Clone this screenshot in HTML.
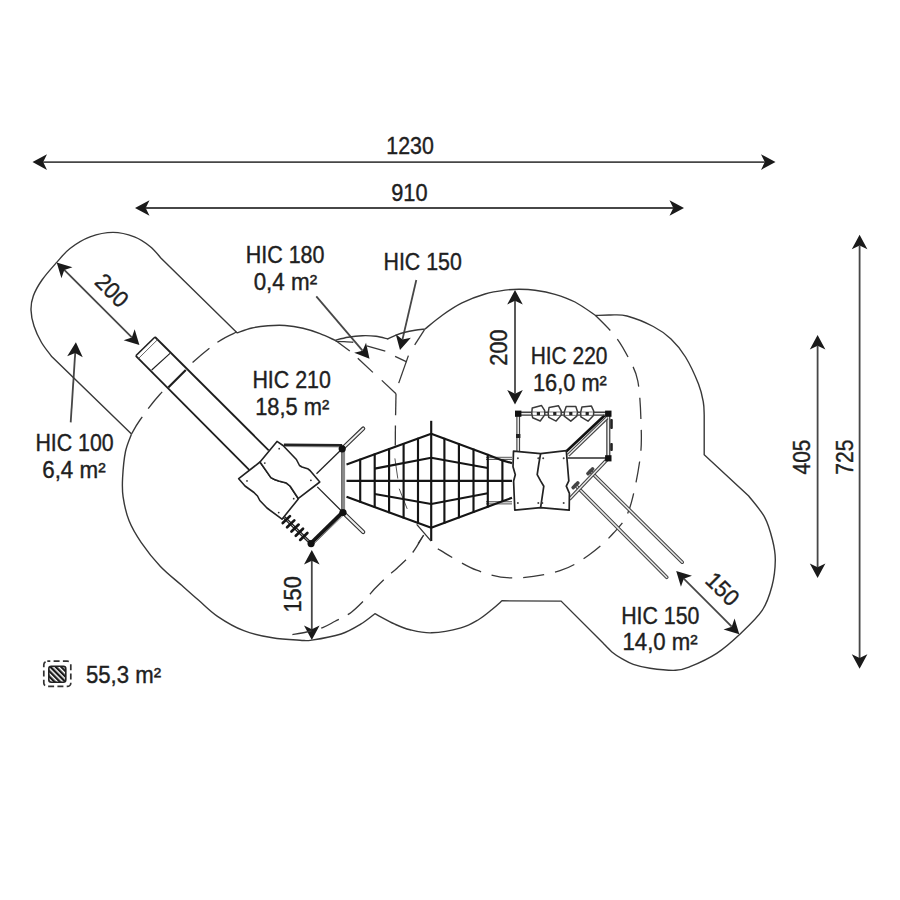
<!DOCTYPE html>
<html><head><meta charset="utf-8"><style>
html,body{margin:0;padding:0;background:#fff;}
svg{display:block;}
text{font-family:"Liberation Sans",sans-serif;stroke:#1f1f1f;stroke-width:0.4px;}
</style></head><body>
<svg width="900" height="900" viewBox="0 0 900 900">
<rect width="900" height="900" fill="#fff"/>
<line x1="43.2" y1="162.1" x2="764.8" y2="162.1" stroke="#474747" stroke-width="1.8" stroke-linecap="butt"/>
<path d="M775.5,162.1 L761,154.3 L764.8,162.1 L761,169.9 Z" fill="#1a1a1a"/>
<path d="M32.5,162.1 L47,169.9 L43.2,162.1 L47,154.3 Z" fill="#1a1a1a"/>
<line x1="145.7" y1="208" x2="673.3" y2="208" stroke="#474747" stroke-width="1.8" stroke-linecap="butt"/>
<path d="M684,208 L669.5,200.2 L673.3,208 L669.5,215.8 Z" fill="#1a1a1a"/>
<path d="M135,208 L149.5,215.8 L145.7,208 L149.5,200.2 Z" fill="#1a1a1a"/>
<line x1="859.6" y1="245.5" x2="859.6" y2="658.1" stroke="#474747" stroke-width="1.8" stroke-linecap="butt"/>
<path d="M859.6,668.8 L867.4,654.3 L859.6,658.1 L851.8,654.3 Z" fill="#1a1a1a"/>
<path d="M859.6,234.8 L851.8,249.3 L859.6,245.5 L867.4,249.3 Z" fill="#1a1a1a"/>
<line x1="817.6" y1="345.7" x2="817.6" y2="567.3" stroke="#474747" stroke-width="1.8" stroke-linecap="butt"/>
<path d="M817.6,578 L825.4,563.5 L817.6,567.3 L809.8,563.5 Z" fill="#1a1a1a"/>
<path d="M817.6,335 L809.8,349.5 L817.6,345.7 L825.4,349.5 Z" fill="#1a1a1a"/>
<line x1="64.27" y1="269.96" x2="131.83" y2="337.44" stroke="#474747" stroke-width="1.8" stroke-linecap="butt"/>
<path d="M139.4,345 L134.65,329.23 L131.83,337.44 L123.63,340.27 Z" fill="#1a1a1a"/>
<path d="M56.7,262.4 L61.45,278.17 L64.27,269.96 L72.47,267.13 Z" fill="#1a1a1a"/>
<line x1="515" y1="300.7" x2="515" y2="393.7" stroke="#474747" stroke-width="1.8" stroke-linecap="butt"/>
<path d="M515,404.4 L522.8,389.9 L515,393.7 L507.2,389.9 Z" fill="#1a1a1a"/>
<path d="M515,290 L507.2,304.5 L515,300.7 L522.8,304.5 Z" fill="#1a1a1a"/>
<line x1="311.8" y1="560.7" x2="311.8" y2="629.3" stroke="#474747" stroke-width="1.8" stroke-linecap="butt"/>
<path d="M311.8,640 L319.6,625.5 L311.8,629.3 L304,625.5 Z" fill="#1a1a1a"/>
<path d="M311.8,550 L304,564.5 L311.8,560.7 L319.6,564.5 Z" fill="#1a1a1a"/>
<line x1="683.77" y1="578.67" x2="731.73" y2="626.63" stroke="#474747" stroke-width="1.8" stroke-linecap="butt"/>
<path d="M739.3,634.2 L734.56,618.43 L731.73,626.63 L723.53,629.46 Z" fill="#1a1a1a"/>
<path d="M676.2,571.1 L680.94,586.87 L683.77,578.67 L691.97,575.84 Z" fill="#1a1a1a"/>
<line x1="316.3" y1="296.3" x2="362.56" y2="350.65" stroke="#474747" stroke-width="1.8" stroke-linecap="butt"/>
<path d="M369.5,358.8 L366.04,342.7 L362.56,350.65 L354.16,352.81 Z" fill="#1a1a1a"/>
<line x1="416.3" y1="280" x2="402.43" y2="339.58" stroke="#474747" stroke-width="1.8" stroke-linecap="butt"/>
<path d="M400,350 L410.89,337.65 L402.43,339.58 L395.69,334.11 Z" fill="#1a1a1a"/>
<line x1="70.7" y1="422.4" x2="75.21" y2="352.88" stroke="#474747" stroke-width="1.8" stroke-linecap="butt"/>
<path d="M75.9,342.2 L67.18,356.16 L75.21,352.88 L82.75,357.17 Z" fill="#1a1a1a"/>
<text x="386.3" y="153.5" font-size="23.2" fill="#1f1f1f" textLength="47.45" lengthAdjust="spacingAndGlyphs">1230</text>
<text x="391.2" y="201.25" font-size="23.2" fill="#1f1f1f" textLength="36.3" lengthAdjust="spacingAndGlyphs">910</text>
<text x="245.7" y="263.4" font-size="23.2" fill="#1f1f1f" textLength="78.8" lengthAdjust="spacingAndGlyphs">HIC 180</text>
<text x="253.65" y="290.25" font-size="23.2" fill="#1f1f1f" textLength="63.45" lengthAdjust="spacingAndGlyphs">0,4 m²</text>
<text x="383.5" y="269.7" font-size="23.2" fill="#1f1f1f" textLength="78.25" lengthAdjust="spacingAndGlyphs">HIC 150</text>
<text x="252.4" y="387.8" font-size="23.2" fill="#1f1f1f" textLength="78.4" lengthAdjust="spacingAndGlyphs">HIC 210</text>
<text x="255.2" y="415" font-size="23.2" fill="#1f1f1f" textLength="74.05" lengthAdjust="spacingAndGlyphs">18,5 m²</text>
<text x="530.7" y="363.9" font-size="23.2" fill="#1f1f1f" textLength="76.75" lengthAdjust="spacingAndGlyphs">HIC 220</text>
<text x="532.9" y="390.5" font-size="23.2" fill="#1f1f1f" textLength="73.95" lengthAdjust="spacingAndGlyphs">16,0 m²</text>
<text x="35.4" y="450.9" font-size="23.2" fill="#1f1f1f" textLength="78.25" lengthAdjust="spacingAndGlyphs">HIC 100</text>
<text x="42.2" y="478.1" font-size="23.2" fill="#1f1f1f" textLength="63.45" lengthAdjust="spacingAndGlyphs">6,4 m²</text>
<text x="621.2" y="623.7" font-size="23.2" fill="#1f1f1f" textLength="78.25" lengthAdjust="spacingAndGlyphs">HIC 150</text>
<text x="622.5" y="650.45" font-size="23.2" fill="#1f1f1f" textLength="75.2" lengthAdjust="spacingAndGlyphs">14,0 m²</text>
<text x="85.95" y="682.8" font-size="23.2" fill="#1f1f1f" textLength="75.15" lengthAdjust="spacingAndGlyphs">55,3 m²</text>
<g transform="translate(112.1 290.5) rotate(45)"><text x="-18.25" y="8.1" font-size="23.2" fill="#1f1f1f" textLength="36.25" lengthAdjust="spacingAndGlyphs">200</text></g>
<g transform="translate(498.9 347.4) rotate(-90)"><text x="-18.25" y="8.1" font-size="23.2" fill="#1f1f1f" textLength="36.25" lengthAdjust="spacingAndGlyphs">200</text></g>
<g transform="translate(293.3 594) rotate(-90)"><text x="-18.5" y="7.85" font-size="23.2" fill="#1f1f1f" textLength="36.3" lengthAdjust="spacingAndGlyphs">150</text></g>
<g transform="translate(801.6 457.3) rotate(-90)"><text x="-17.12" y="8.1" font-size="23.2" fill="#1f1f1f" textLength="34.7" lengthAdjust="spacingAndGlyphs">405</text></g>
<g transform="translate(844.7 457.1) rotate(-90)"><text x="-17.62" y="8.1" font-size="23.2" fill="#1f1f1f" textLength="35.1" lengthAdjust="spacingAndGlyphs">725</text></g>
<g transform="translate(722.7 589.3) rotate(45)"><text x="-18.5" y="7.85" font-size="23.2" fill="#1f1f1f" textLength="36.3" lengthAdjust="spacingAndGlyphs">150</text></g>
<path d="M131.5,434 L51.7,356.5 C50,354.17 44.45,347.58 41.5,342.5 C38.55,337.42 35.75,331.42 34,326 C32.25,320.58 31.12,315 31,310 C30.88,305 31.47,301 33.3,296 C35.13,291 38.1,285.6 42,280 C45.9,274.4 52.03,267.65 56.7,262.4 C61.37,257.15 64.45,252.75 70,248.5 C75.55,244.25 82.82,239.58 90,236.9 C97.18,234.22 105.7,232.4 113.1,232.4 C120.5,232.4 128.18,234.52 134.4,236.9 C140.62,239.28 145.95,243.15 150.4,246.7 C154.85,250.25 159.32,256.28 161.1,258.2 L237,332.8 C239.5,332 246.83,329.17 252,328 C257.17,326.83 262.5,326.22 268,325.8 C273.5,325.38 279.17,325.08 285,325.5 C290.83,325.92 297.17,326.95 303,328.3 C308.83,329.65 314.67,331.6 320,333.6 C325.33,335.6 332.5,339.18 335,340.3 C337.17,339.78 343.45,337.97 348,337.2 C352.55,336.43 357.63,335.85 362.3,335.7 C366.97,335.55 371.77,335.75 376,336.3 C380.23,336.85 385.75,338.55 387.7,339 C389.08,338.37 393.12,336.32 396,335.2 C398.88,334.08 401.83,333.12 405,332.3 C408.17,331.48 411.67,330.85 415,330.3 C418.33,329.75 423.33,329.22 425,329 C427.88,326.7 436.13,319.55 442.3,315.2 C448.47,310.85 454.88,306.43 462,302.9 C469.12,299.37 477.83,296.13 485,294 C492.17,291.87 499.25,290.88 505,290.1 C510.75,289.32 514.5,289.28 519.5,289.3 C524.5,289.32 529.08,289.37 535,290.2 C540.92,291.03 548.33,292.33 555,294.3 C561.67,296.27 568.23,298.47 575,302 C581.77,305.53 592.17,313.25 595.6,315.5 C598,315.42 604.77,314.92 610,315 C615.23,315.08 619.78,314.08 627,316 C634.22,317.92 645.97,322.67 653.3,326.5 C660.63,330.33 665.63,333.92 671,339 C676.37,344.08 680.92,349.5 685.5,357 C690.08,364.5 695.53,376.5 698.5,384 C701.47,391.5 702.35,396.83 703.3,402 C704.25,407.17 704.05,412.83 704.2,415 L704.2,454.7 L748.7,496 C751.37,499.55 760.73,509.97 764.7,517.3 C768.67,524.63 770.73,532.88 772.5,540 C774.27,547.12 775.38,552.33 775.3,560 C775.22,567.67 774.22,577.55 772,586 C769.78,594.45 767.45,602.58 762,610.7 C756.55,618.82 746.85,627.6 739.3,634.7 C731.75,641.8 724.92,647.97 716.7,653.3 C708.48,658.63 696.85,663.87 690,666.7 C683.15,669.53 682.27,670.03 675.6,670.3 C668.93,670.57 657.05,669.28 650,668.3 C642.95,667.32 637.93,665.97 633.3,664.4 C628.67,662.83 625.72,660.93 622.2,658.9 C618.68,656.87 615.35,654.8 612.2,652.2 C609.05,649.6 604.78,644.78 603.3,643.3 L561.1,601.1 L502,600.8 C500.33,602.25 496,606.3 492,609.5 C488,612.7 483.18,616.93 478,620 C472.82,623.07 468.63,625.77 460.9,627.9 C453.17,630.03 440.08,632.48 431.6,632.8 C423.12,633.12 416.12,631.23 410,629.8 C403.88,628.37 400.75,626.88 394.9,624.2 C389.05,621.52 378.23,615.45 374.9,613.7 C372.53,615.45 366.33,620.82 360.7,624.2 C355.07,627.58 349.25,631.35 341.1,634 C332.95,636.65 318.65,639.07 311.8,640.1 C304.95,641.13 306.57,640.58 300,640.2 C293.43,639.82 281.77,639.38 272.4,637.8 C263.03,636.22 252.95,634.28 243.8,630.7 C234.65,627.12 225.07,621.42 217.5,616.3 C209.93,611.18 204.37,605.17 198.4,600 C192.43,594.83 188.07,590.93 181.7,585.3 C175.33,579.67 166.97,573.37 160.2,566.2 C153.43,559.03 146.28,549.87 141.1,542.3 C135.92,534.73 132.1,528.37 129.1,520.8 C126.1,513.23 124.18,504.07 123.1,496.9 C122.02,489.73 122.2,485.37 122.6,477.8 C123,470.23 124.02,458.8 125.5,451.5 C126.98,444.2 130.5,436.92 131.5,434" fill="none" stroke="#383838" stroke-width="1.4" />
<path d="M335.6,341.3 C337,341.35 341.05,341.45 344,341.6 C346.95,341.75 351.75,342.1 353.3,342.2" fill="none" stroke="#383838" stroke-width="1.4" />
<path d="M236.7,332 C233.63,333.62 225.8,336.48 218.3,341.7 C210.8,346.92 201.42,354.55 191.7,363.3 C181.98,372.05 168.62,384.75 160,394.2 C151.38,403.65 144.75,413.37 140,420 C135.25,426.63 132.92,431.67 131.5,434" fill="none" stroke="#383838" stroke-width="1.3" stroke-dasharray="22 10" />
<line x1="335.6" y1="340.4" x2="349.8" y2="351.1" stroke="#383838" stroke-width="1.3" stroke-linecap="butt"/>
<line x1="357.8" y1="358.2" x2="372.9" y2="372.4" stroke="#383838" stroke-width="1.3" stroke-linecap="butt"/>
<line x1="381.8" y1="380.4" x2="396" y2="393.8" stroke="#383838" stroke-width="1.3" stroke-linecap="butt"/>
<line x1="396" y1="393.8" x2="395.6" y2="415.3" stroke="#383838" stroke-width="1.3" stroke-linecap="butt"/>
<line x1="395.4" y1="425.6" x2="395.3" y2="445.6" stroke="#383838" stroke-width="1.3" stroke-linecap="butt"/>
<line x1="366.7" y1="345.8" x2="385.3" y2="351.1" stroke="#383838" stroke-width="1.3" stroke-linecap="butt"/>
<line x1="394.9" y1="458.4" x2="397.8" y2="478.6" stroke="#555" stroke-width="1" stroke-linecap="butt"/>
<line x1="399.2" y1="488.7" x2="407.2" y2="508.9" stroke="#555" stroke-width="1" stroke-linecap="butt"/>
<path d="M423.3,535.5 C421.48,538.4 416.73,547.48 412.4,552.9 C408.07,558.32 401.58,564 397.3,568 C393.02,572 390.55,573.35 386.7,576.9 C382.85,580.45 377.47,585.9 374.2,589.3 C370.93,592.7 370.95,593.45 367.1,597.3 C363.25,601.15 356.43,608.4 351.1,612.4 C345.77,616.4 339.83,618.77 335.1,621.3 C330.37,623.83 327.43,625.82 322.7,627.6 C317.97,629.38 311.75,630.82 306.7,632 C301.65,633.18 294.78,634.25 292.4,634.7" fill="none" stroke="#383838" stroke-width="1.3" stroke-dasharray="20 10" />
<line x1="424.4" y1="329.8" x2="414.7" y2="344.9" stroke="#383838" stroke-width="1.3" stroke-linecap="butt"/>
<line x1="408.4" y1="355.6" x2="398.7" y2="383.1" stroke="#383838" stroke-width="1.3" stroke-linecap="butt"/>
<line x1="395.1" y1="356.4" x2="406.7" y2="361.8" stroke="#383838" stroke-width="1.3" stroke-linecap="butt"/>
<path d="M595.6,315.5 C598.93,319.03 610.03,329.45 615.6,336.7 C621.17,343.95 625.3,351.62 629,359 C632.7,366.38 635.8,370.5 637.8,381 C639.8,391.5 640.63,409 641,422 C641.37,435 642,444.33 640,459 C638,473.67 633.45,497.62 629,510 C624.55,522.38 619.92,525.85 613.3,533.3 C606.68,540.75 598.18,548.47 589.3,554.7 C580.42,560.93 572.55,566.82 560,570.7 C547.45,574.58 527.88,578.08 514,578 C500.12,577.92 489.4,575.05 476.7,570.2 C464,565.35 444.28,552.45 437.8,548.9" fill="none" stroke="#383838" stroke-width="1.3" stroke-dasharray="21 11" />
<path d="M135.8,355.8 L155,337 L268.7,450.3 L249.2,469.8 Z" fill="#fff"/>
<line x1="135.8" y1="355.8" x2="249.2" y2="469.8" stroke="#1e1e1e" stroke-width="1.8" stroke-linecap="butt"/>
<line x1="155" y1="337" x2="268.7" y2="450.3" stroke="#1e1e1e" stroke-width="1.8" stroke-linecap="butt"/>
<line x1="135.8" y1="355.8" x2="155" y2="337" stroke="#1e1e1e" stroke-width="1.6" stroke-linecap="butt"/>
<line x1="138.6" y1="358.4" x2="157.6" y2="339.6" stroke="#555" stroke-width="0.9" stroke-linecap="butt"/>
<line x1="151.7" y1="370" x2="170" y2="353.3" stroke="#1e1e1e" stroke-width="1.1" stroke-linecap="butt"/>
<line x1="168.3" y1="387.5" x2="185.8" y2="370" stroke="#1e1e1e" stroke-width="2.2" stroke-linecap="butt"/>
<line x1="283.9" y1="517.2" x2="311.1" y2="543.6" stroke="#222" stroke-width="3" stroke-linecap="butt"/>
<line x1="283.9" y1="517.2" x2="311.1" y2="543.6" stroke="#ccc" stroke-width="0.9" stroke-linecap="butt"/>
<line x1="282.75" y1="523.03" x2="289.95" y2="516.13" stroke="#151515" stroke-width="2.7" stroke-linecap="round"/>
<line x1="287.1" y1="527.25" x2="294.3" y2="520.35" stroke="#151515" stroke-width="2.7" stroke-linecap="round"/>
<line x1="291.45" y1="531.47" x2="298.65" y2="524.57" stroke="#151515" stroke-width="2.7" stroke-linecap="round"/>
<line x1="295.8" y1="535.7" x2="303" y2="528.8" stroke="#151515" stroke-width="2.7" stroke-linecap="round"/>
<line x1="300.16" y1="539.92" x2="307.36" y2="533.02" stroke="#151515" stroke-width="2.7" stroke-linecap="round"/>
<line x1="283.9" y1="446.3" x2="342.2" y2="446.6" stroke="#999" stroke-width="1.6" stroke-linecap="butt"/>
<line x1="283.9" y1="444.8" x2="342.2" y2="445.2" stroke="#222" stroke-width="2.4" stroke-linecap="butt"/>
<line x1="343.4" y1="448.8" x2="343.4" y2="512.5" stroke="#8a8a8a" stroke-width="3.4" stroke-linecap="butt"/>
<line x1="341.6" y1="448.8" x2="341.6" y2="512.5" stroke="#444" stroke-width="0.8" stroke-linecap="butt"/>
<line x1="343" y1="512.5" x2="311.1" y2="543.6" stroke="#151515" stroke-width="4.6" stroke-linecap="butt"/>
<line x1="344.2" y1="513.8" x2="312.3" y2="544.9" stroke="#aaa" stroke-width="1" stroke-linecap="butt"/>
<line x1="342.2" y1="448.8" x2="363.2" y2="428.6" stroke="#333" stroke-width="4.2" stroke-linecap="round"/>
<line x1="342.2" y1="448.8" x2="363.2" y2="428.6" stroke="#eee" stroke-width="2" stroke-linecap="round"/>
<line x1="343" y1="512.5" x2="363.2" y2="532" stroke="#333" stroke-width="4.2" stroke-linecap="round"/>
<line x1="343" y1="512.5" x2="363.2" y2="532" stroke="#eee" stroke-width="2" stroke-linecap="round"/>
<line x1="342.2" y1="448.8" x2="316.5" y2="473.7" stroke="#222" stroke-width="1.3" stroke-linecap="butt"/>
<line x1="343" y1="512.5" x2="317.3" y2="486.9" stroke="#222" stroke-width="1.3" stroke-linecap="butt"/>
<circle cx="342.2" cy="448.8" r="3.6" fill="#111"/>
<circle cx="343" cy="512.5" r="3.6" fill="#111"/>
<circle cx="311.1" cy="543.6" r="3.6" fill="#111"/>
<path d="M238.7,478.7 L245,486 L254,492.5 L257.5,496 L259.8,500.5 L267,508 L282,519.2 L298.1,499.2 L297.6,497.5 L290,486 L286.4,483.1 L278.7,481 L274.5,479.5 L270.9,477.6 L260,462 Z" fill="#fff" stroke="#222" stroke-width="1.6" stroke-linejoin="round"/>
<path d="M260,462 L277,441.4 L283,445.5 L296.4,459.5 L299.5,465.5 L302,467 L307.6,468.7 L310,470.5 L319.8,482 L298.1,498.7 L297.6,497.5 L290,486 L286.4,483.1 L278.7,481 L274.5,479.5 L270.9,477.6 L260,462 Z" fill="#fff" stroke="#222" stroke-width="1.6" stroke-linejoin="round"/>
<circle cx="279.2" cy="448.7" r="0.9" fill="#333"/>
<circle cx="264.8" cy="463.1" r="0.9" fill="#333"/>
<circle cx="310.9" cy="480.3" r="0.9" fill="#333"/>
<circle cx="293.7" cy="498.7" r="0.9" fill="#333"/>
<circle cx="247" cy="480.9" r="0.9" fill="#333"/>
<circle cx="278.7" cy="512.6" r="0.9" fill="#333"/>
<line x1="486" y1="458.4" x2="512" y2="458.4" stroke="#555" stroke-width="3.2" stroke-linecap="butt"/>
<line x1="486" y1="458.4" x2="512" y2="458.4" stroke="#ddd" stroke-width="1.3" stroke-linecap="butt"/>
<line x1="486" y1="502.8" x2="512" y2="502.8" stroke="#555" stroke-width="3.2" stroke-linecap="butt"/>
<line x1="486" y1="502.8" x2="512" y2="502.8" stroke="#ddd" stroke-width="1.3" stroke-linecap="butt"/>
<polyline points="346.5,464.5 431.2,433.8 487.8,454.7 502.4,460.4 512,463.1" fill="none" stroke="#151515" stroke-width="2.15" stroke-linejoin="round"/>
<polyline points="346.5,496.8 431.2,527.8 487.8,506.7 502.4,501.3 512,497.8" fill="none" stroke="#151515" stroke-width="2.15" stroke-linejoin="round"/>
<polyline points="374.7,468.6 431.2,457.7 487.8,468" fill="none" stroke="#151515" stroke-width="2.15" stroke-linejoin="round"/>
<polyline points="374.7,494 431.2,504 487.8,493.3" fill="none" stroke="#151515" stroke-width="2.15" stroke-linejoin="round"/>
<line x1="346.5" y1="480.8" x2="512" y2="480.8" stroke="#151515" stroke-width="2.15" stroke-linecap="butt"/>
<line x1="360.2" y1="458.73" x2="360.2" y2="502.61" stroke="#151515" stroke-width="2.15" stroke-linecap="butt"/>
<line x1="374.7" y1="453.48" x2="374.7" y2="507.92" stroke="#151515" stroke-width="2.15" stroke-linecap="butt"/>
<line x1="389.1" y1="448.26" x2="389.1" y2="513.19" stroke="#151515" stroke-width="2.15" stroke-linecap="butt"/>
<line x1="403.6" y1="443" x2="403.6" y2="518.5" stroke="#151515" stroke-width="2.15" stroke-linecap="butt"/>
<line x1="418" y1="437.78" x2="418" y2="523.77" stroke="#151515" stroke-width="2.15" stroke-linecap="butt"/>
<line x1="444.4" y1="437.87" x2="444.4" y2="523.68" stroke="#151515" stroke-width="2.15" stroke-linecap="butt"/>
<line x1="458.9" y1="443.23" x2="458.9" y2="518.27" stroke="#151515" stroke-width="2.15" stroke-linecap="butt"/>
<line x1="473.5" y1="448.62" x2="473.5" y2="512.83" stroke="#151515" stroke-width="2.15" stroke-linecap="butt"/>
<line x1="487.8" y1="453.9" x2="487.8" y2="507.5" stroke="#151515" stroke-width="2.15" stroke-linecap="butt"/>
<line x1="502.4" y1="459.6" x2="502.4" y2="502.1" stroke="#151515" stroke-width="2.15" stroke-linecap="butt"/>
<line x1="431.2" y1="420.8" x2="431.2" y2="541" stroke="#151515" stroke-width="2.15" stroke-linecap="butt"/>
<line x1="416.7" y1="524.4" x2="431.1" y2="541.1" stroke="#333" stroke-width="1.3" stroke-linecap="butt"/>
<line x1="418" y1="543.6" x2="423.8" y2="535" stroke="#333" stroke-width="1.1" stroke-linecap="butt"/>
<line x1="590.3" y1="471.2" x2="682.2" y2="562.2" stroke="#444" stroke-width="3.6" stroke-linecap="round"/>
<line x1="590.3" y1="471.2" x2="682.2" y2="562.2" stroke="#e6e6e6" stroke-width="1.6" stroke-linecap="round"/>
<g transform="translate(590.3 471.2) rotate(45)"><rect x="-1.8" y="-5" width="3.6" height="10" rx="1.5" fill="#444"/></g>
<line x1="575.5" y1="485.2" x2="666.7" y2="577.3" stroke="#444" stroke-width="3.6" stroke-linecap="round"/>
<line x1="575.5" y1="485.2" x2="666.7" y2="577.3" stroke="#e6e6e6" stroke-width="1.6" stroke-linecap="round"/>
<g transform="translate(575.5 485.2) rotate(45)"><rect x="-1.8" y="-5" width="3.6" height="10" rx="1.5" fill="#444"/></g>
<line x1="608.3" y1="458.3" x2="569.3" y2="499.2" stroke="#444" stroke-width="3.6" stroke-linecap="butt"/>
<line x1="608.3" y1="458.3" x2="569.3" y2="499.2" stroke="#eee" stroke-width="1.4" stroke-linecap="butt"/>
<line x1="518.2" y1="413.7" x2="608.3" y2="413.7" stroke="#444" stroke-width="3.8" stroke-linecap="butt"/>
<line x1="518.2" y1="413.7" x2="608.3" y2="413.7" stroke="#eee" stroke-width="1.5" stroke-linecap="butt"/>
<line x1="518.2" y1="413.7" x2="518.2" y2="451.3" stroke="#444" stroke-width="3.8" stroke-linecap="butt"/>
<line x1="518.2" y1="413.7" x2="518.2" y2="451.3" stroke="#eee" stroke-width="1.5" stroke-linecap="butt"/>
<rect x="516" y="434" width="4.4" height="4" fill="#222"/>
<line x1="608.3" y1="413.7" x2="608.3" y2="458.3" stroke="#444" stroke-width="4.2" stroke-linecap="butt"/>
<line x1="608.3" y1="413.7" x2="608.3" y2="458.3" stroke="#eee" stroke-width="1.6" stroke-linecap="butt"/>
<rect x="610.2" y="419" width="2.6" height="10" rx="1" fill="#222"/>
<rect x="610.2" y="443" width="2.6" height="8" rx="1" fill="#222"/>
<line x1="604.5" y1="415.5" x2="566.5" y2="451.2" stroke="#111" stroke-width="2.6" stroke-linecap="butt"/>
<line x1="607.2" y1="417.6" x2="568.2" y2="455.2" stroke="#444" stroke-width="3.6" stroke-linecap="butt"/>
<line x1="607.2" y1="417.6" x2="568.2" y2="455.2" stroke="#eee" stroke-width="1.4" stroke-linecap="butt"/>
<line x1="567.7" y1="458" x2="606" y2="458" stroke="#2a2a2a" stroke-width="1.3" stroke-linecap="butt"/>
<g transform="translate(538.4 413.6) rotate(-14)"><polygon points="-4.6,-7 5,-7 6.8,-1.6 6,2.6 0,7.6 -6.6,2.6 -6.4,-1.8" fill="#fff" stroke="#3a3a3a" stroke-width="1.5" stroke-linejoin="round"/></g>
<g transform="translate(554.8 413.6) rotate(-10)"><polygon points="-4.6,-7 5,-7 6.8,-1.6 6,2.6 0,7.6 -6.6,2.6 -6.4,-1.8" fill="#fff" stroke="#3a3a3a" stroke-width="1.5" stroke-linejoin="round"/></g>
<g transform="translate(570.8 413.6) rotate(0)"><polygon points="-4.6,-7 5,-7 6.8,-1.6 6,2.6 0,7.6 -6.6,2.6 -6.4,-1.8" fill="#fff" stroke="#3a3a3a" stroke-width="1.5" stroke-linejoin="round"/></g>
<g transform="translate(587.2 413.6) rotate(-6)"><polygon points="-4.6,-7 5,-7 6.8,-1.6 6,2.6 0,7.6 -6.6,2.6 -6.4,-1.8" fill="#fff" stroke="#3a3a3a" stroke-width="1.5" stroke-linejoin="round"/></g>
<line x1="518.2" y1="412" x2="608.3" y2="412" stroke="#444" stroke-width="0.7" stroke-linecap="butt"/>
<line x1="518.2" y1="415.4" x2="608.3" y2="415.4" stroke="#444" stroke-width="0.7" stroke-linecap="butt"/>
<rect x="536.8" y="412" width="3.2" height="3.2" fill="#222"/>
<rect x="553.2" y="412" width="3.2" height="3.2" fill="#222"/>
<rect x="569.2" y="412" width="3.2" height="3.2" fill="#222"/>
<rect x="585.6" y="412" width="3.2" height="3.2" fill="#222"/>
<rect x="515" y="410.6" width="6.4" height="6.2" fill="#111"/>
<rect x="605.1" y="410.6" width="6.4" height="6.2" fill="#111"/>
<rect x="605.1" y="455.2" width="6.4" height="6.2" fill="#111"/>
<path d="M513.5,451.1 L540.6,453.6 L566.3,450.7 L568.8,480.9 L566.3,486.2 L569.4,493.3 L569.2,510.2 L540.6,507.6 L514.8,510.2 L513.6,481 L515.3,474.7 L513,466.7 Z" fill="#fff" stroke="#222" stroke-width="1.7" stroke-linejoin="round"/>
<path d="M540.6,453.6 L538.8,464 L537.2,474.7 L540.6,480.9 L543.8,486.2 L540.6,507.6" fill="none" stroke="#222" stroke-width="1.7" stroke-linejoin="round"/>
<circle cx="517.9" cy="458.2" r="1.0" fill="#444"/>
<circle cx="538.3" cy="458.2" r="1.0" fill="#444"/>
<circle cx="543.2" cy="458.2" r="1.0" fill="#444"/>
<circle cx="563.7" cy="458.2" r="1.0" fill="#444"/>
<circle cx="517.9" cy="503.1" r="1.0" fill="#444"/>
<circle cx="538.3" cy="503.1" r="1.0" fill="#444"/>
<circle cx="542.3" cy="503.1" r="1.0" fill="#444"/>
<circle cx="563.7" cy="503.1" r="1.0" fill="#444"/>
<rect x="43.8" y="661.2" width="27" height="25.2" rx="3.5" fill="none" stroke="#333" stroke-width="1.7" stroke-dasharray="6 3.3" stroke-dashoffset="3"/>
<defs><pattern id="hat" patternUnits="userSpaceOnUse" width="3.8" height="3.8" patternTransform="rotate(-45)"><rect width="3.8" height="3.8" fill="#fff"/><rect width="2.3" height="3.8" fill="#1a1a1a"/></pattern></defs>
<rect x="48.8" y="666.3" width="17" height="16" rx="2.5" fill="url(#hat)" stroke="#222" stroke-width="1.6"/>
</svg>
</body></html>
